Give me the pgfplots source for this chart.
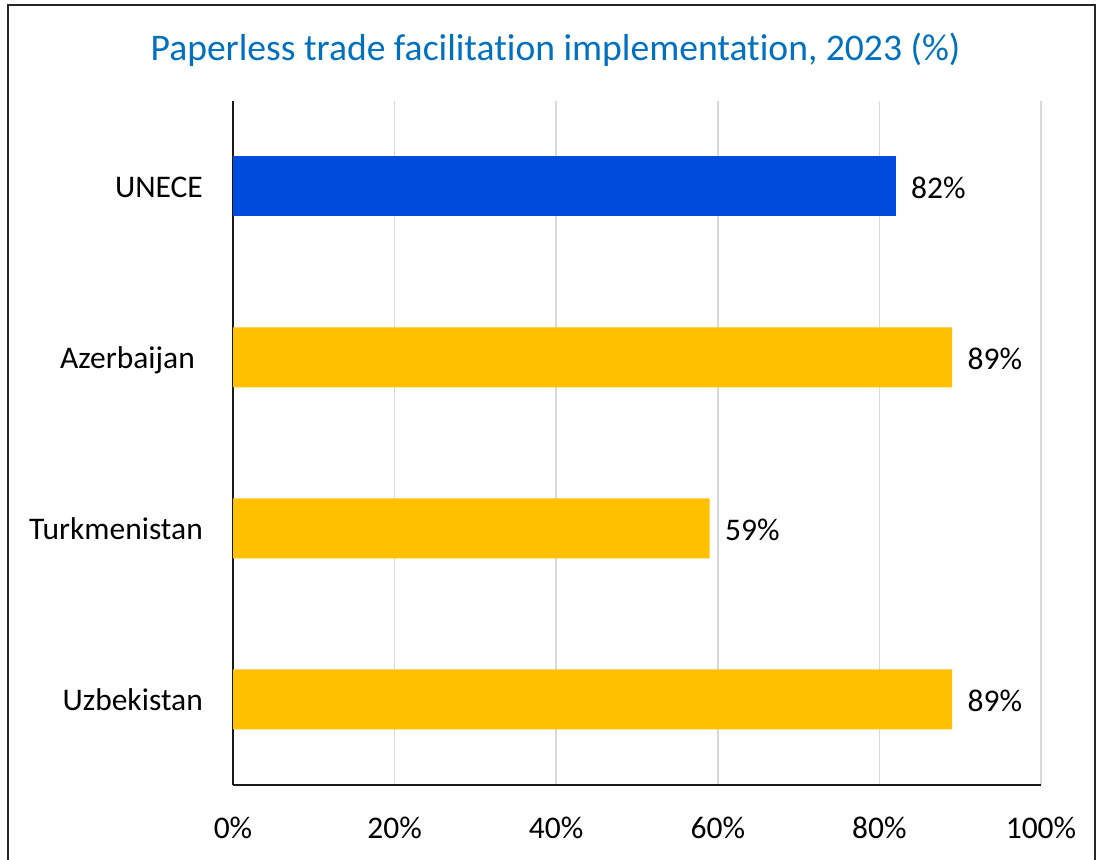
\documentclass[border=0pt]{standalone}
\usepackage{fontspec}
\setmainfont{Carlito}[Ligatures=NoCommon]
\usepackage{pgfplots}
\pgfplotsset{compat=1.18}
\definecolor{unblue}{HTML}{004BDD}
\definecolor{ungold}{HTML}{FFC000}
\definecolor{titleblue}{HTML}{0070C0}
\definecolor{gridgrey}{HTML}{D9D9D9}
\begin{document}
\begin{tikzpicture}
\useasboundingbox (0,0) rectangle (1097bp,860bp);
\fill[white] (0,0) rectangle (1097bp,860bp);
\draw[black!85, line width=1.3bp] (8bp,-20bp) -- (8bp,855bp) -- (1095bp,855bp) -- (1095bp,-20bp);
\node[anchor=base, text=titleblue, font=\fontsize{37.6bp}{44bp}\selectfont] at (555.5bp,799bp) {Paperless trade facilitation implementation, 2023 (\%)};
\begin{axis}[
  at={(233bp,75bp)}, anchor=south west,
  width=808bp, height=684bp, scale only axis,
  xbar, bar width=60bp, bar shift=0pt,
  xmin=0, xmax=100, ymin=-0.5, ymax=3.5,
  axis x line=bottom, axis y line=left,
  x axis line style={-, line width=2.2bp, black!90},
  y axis line style={-, line width=1.3bp, black!90},
  xtick={0,20,40,60,80,100},
  xticklabels={0\%,20\%,40\%,60\%,80\%,100\%},
  ytick={0,1,2,3},
  yticklabels={Uzbekistan,Turkmenistan,Azerbaijan\hspace*{8bp},UNECE},
  major tick length=0pt,
  xmajorgrids, major grid style={gridgrey, line width=1.6bp},
  tick label style={font=\fontsize{31.5bp}{36bp}\selectfont, inner sep=0pt},
  typeset ticklabels with strut,
  xticklabel shift=28bp,
  yticklabel shift=30bp,
  yticklabel style={yshift=-4bp},
  /pgf/number format/assume math mode=true,
  point meta=x,
  nodes near coords={\pgfmathprintnumber{\pgfplotspointmeta}\%},
  every node near coord/.append style={font=\fontsize{31.5bp}{36bp}\selectfont, anchor=west, xshift=12bp, yshift=-1bp, text=black},
  clip=false,
]
\addplot[fill=ungold, draw=none] coordinates {(89,0) (59,1) (89,2)};
\addplot[fill=unblue, draw=none] coordinates {(82,3)};
\end{axis}
\end{tikzpicture}
\end{document}
